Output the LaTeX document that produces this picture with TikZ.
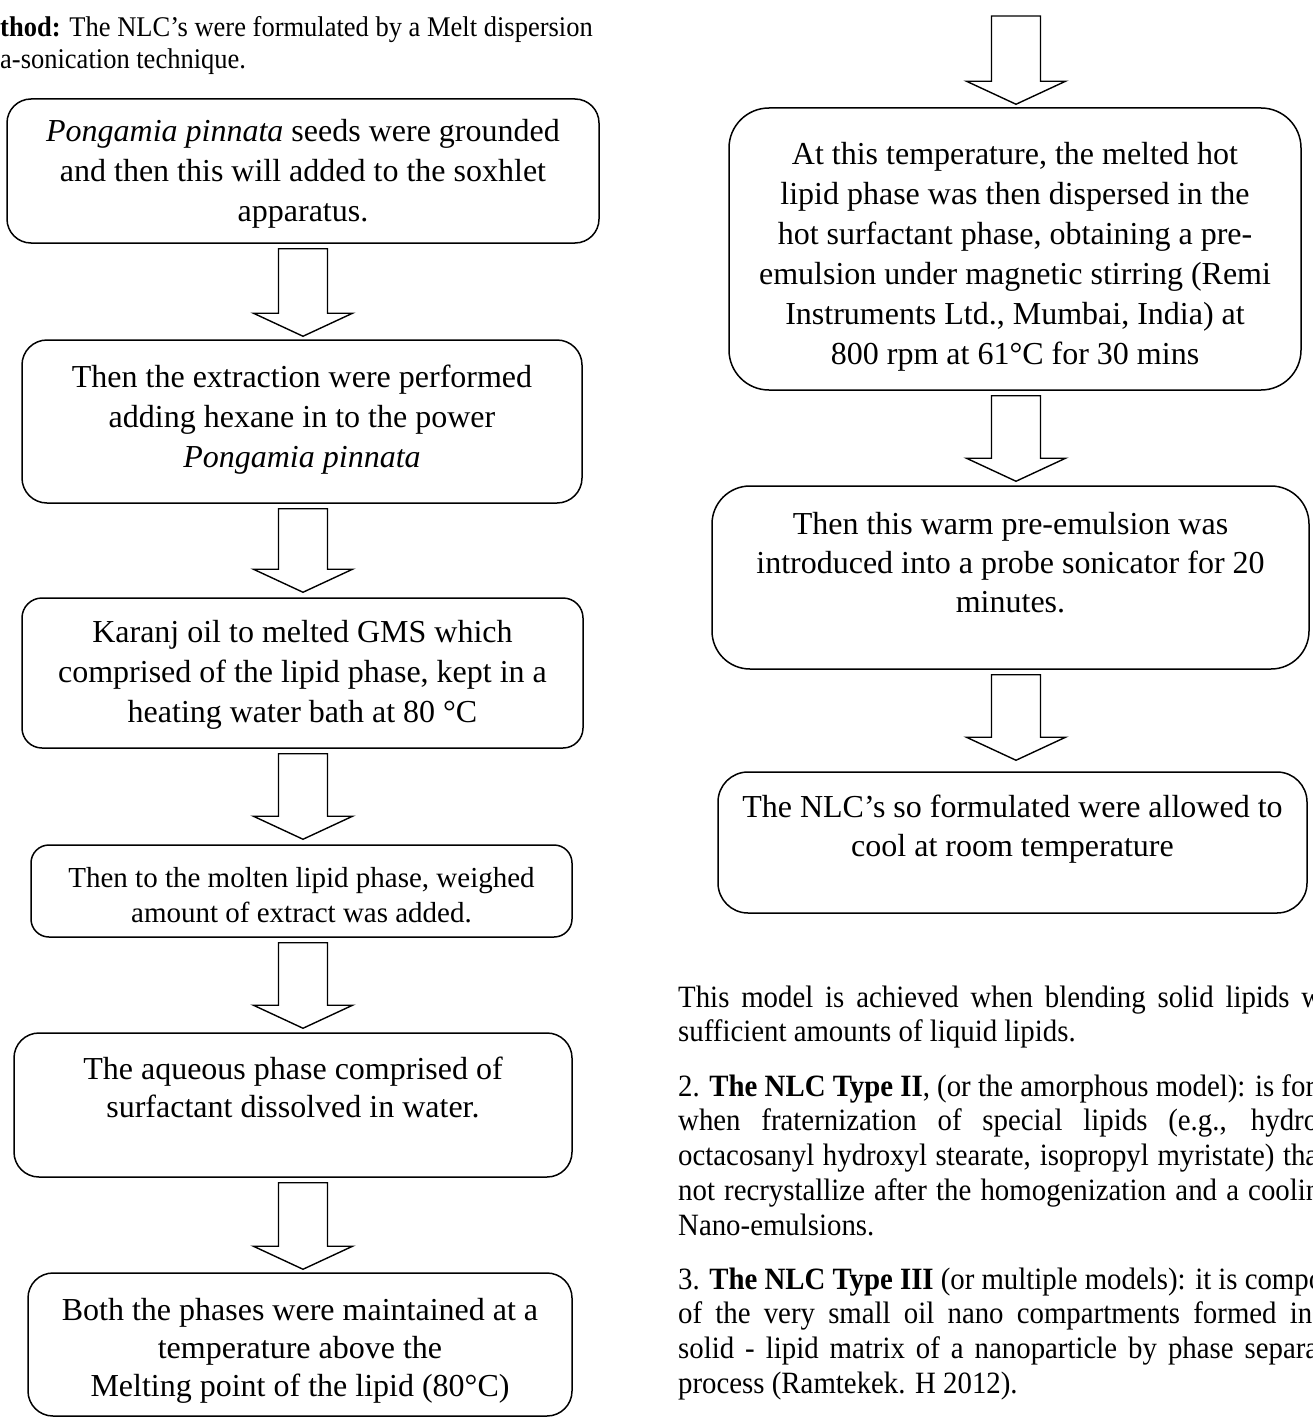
\documentclass[tikz,border=0pt]{standalone}
\usepackage{fontspec}
\setmainfont{Liberation Serif}
\newfontfamily\bodyfont[FakeStretch=0.93]{Liberation Serif}
\usetikzlibrary{calc}

\tikzset{
  stepbox/.style={draw, line width=1.5pt, inner sep=0pt, font=\fontsize{32}{40}\selectfont},
  blockarrow/.style={draw, line width=1.4pt, fill=white, line join=miter},
  bodytext/.style={anchor=north west, inner sep=0pt, align=left, font=\bodyfont\fontsize{31}{34.7}\selectfont}
}
% width, height, top padding, text
\newcommand{\steptext}[4]{\parbox[c][#2pt][t]{#1pt}{\centering\vspace*{#3pt}\strut #4}}
% one justified line of the running text
\newcommand{\jline}[2]{\makebox[#1pt][s]{#2}}

\begin{document}
\begin{tikzpicture}[x=1pt,y=-1pt]
  \fill[white] (0,0) rectangle (1312,1418);
  \useasboundingbox (0,0) rectangle (1312,1418);
  \clip (0,0) rectangle (1312,1418);

  \coordinate (lc) at (303,0);
  \coordinate (rc) at (1016,0);
  \coordinate (top) at (1016,11);

  \node[bodytext, font=\bodyfont\fontsize{28.5}{32}\selectfont] (head) at (0,13.6)
    {\strut\textbf{thod:} The NLC’s were formulated by a Melt dispersion\\a-sonication technique.};

  % left column
  \node[stepbox, rounded corners=24pt] (b1) at (303,171)
    {\steptext{592}{144}{14}{\textit{Pongamia pinnata} seeds were grounded\\and then this will added to the soxhlet\\apparatus.}};
  \node[stepbox, rounded corners=25pt] (b2) at (302,421.5)
    {\steptext{560}{163}{19}{Then the extraction were performed\\adding hexane in to the power\\\textit{Pongamia pinnata}}};
  \node[stepbox, rounded corners=20pt] (b3) at (302.5,673)
    {\steptext{561}{150}{16}{Karanj oil to melted GMS which\\comprised of the lipid phase, kept in a\\heating water bath at 80~°C}};
  \node[stepbox, rounded corners=18pt, font=\fontsize{29}{35}\selectfont] (b4) at (301.5,891)
    {\steptext{541}{92}{17.5}{Then to the molten lipid phase, weighed\\amount of extract was added.}};
  \node[stepbox, rounded corners=25pt, font=\fontsize{32}{38}\selectfont] (b5) at (293,1105)
    {\steptext{558}{144}{19.4}{The aqueous phase comprised of\\surfactant dissolved in water.}};
  \node[stepbox, rounded corners=25pt, font=\fontsize{32}{38}\selectfont] (b6) at (300,1344.5)
    {\steptext{544}{143}{21}{Both the phases were maintained at a\\temperature above the\\Melting point of the lipid (80°C)}};

  % right column
  \node[stepbox, rounded corners=40pt] (bA) at (1015,249)
    {\steptext{572}{282}{28}{At this temperature, the melted hot\\lipid phase was then dispersed in the\\hot surfactant phase, obtaining a pre-\\emulsion under magnetic stirring (Remi\\Instruments Ltd., Mumbai, India) at\\800 rpm at 61°C for 30 mins}};
  \node[stepbox, rounded corners=38pt, font=\fontsize{32}{39}\selectfont] (bB) at (1010.5,577.5)
    {\steptext{597}{183}{20.7}{Then this warm pre-emulsion was\\introduced into a probe sonicator for 20\\minutes.}};
  \node[stepbox, rounded corners=30pt, font=\fontsize{32}{39}\selectfont] (bC) at (1012.5,842.5)
    {\steptext{589}{141}{17.7}{The NLC’s so formulated were allowed to\\cool at room temperature}};

  \foreach \from/\to/\col/\gap in {b1.south/b2.north/lc/3, b2.south/b3.north/lc/5,
    b3.south/b4.north/lc/5, b4.south/b5.north/lc/4, b5.south/b6.north/lc/3,
    top/bA.north/rc/3, bA.south/bB.north/rc/4, bB.south/bC.north/rc/11}
    \draw[blockarrow] let \p1=(\from -| \col), \p2=(\to -| \col) in
      (\x1-24.5pt,\y1-5pt) -- (\x1-24.5pt,\y2+\gap pt+23pt) -- (\x1-49.5pt,\y2+\gap pt+23pt)
      -- (\x1,\y2+\gap pt) -- (\x1+49.5pt,\y2+\gap pt+23pt) -- (\x1+24.5pt,\y2+\gap pt+23pt)
      -- (\x1+24.5pt,\y1-5pt) -- cycle;

  % running text
  \node[bodytext] (p1) at (678,982.7)
    {\strut\jline{644}{This model is achieved when blending solid lipids w}\\sufficient amounts of liquid lipids.};
  \node[bodytext] (p2) at (678,1071.7)
    {\strut 2. \textbf{The NLC Type II}, (or the amorphous model): is form\\\jline{640}{when fraternization of special lipids (e.g., hydro}\\\jline{640}{octacosanyl hydroxyl stearate, isopropyl myristate) tha}\\\jline{642}{not recrystallize after the homogenization and a coolin}\\Nano-emulsions.};
  \node[bodytext] (p3) at (678,1264.7)
    {\strut\jline{645}{3. \textbf{The NLC Type III} (or multiple models): it is compo}\\\jline{634}{of the very small oil nano compartments formed in}\\\jline{640}{solid - lipid matrix of a nanoparticle by phase separa}\\process (Ramtekek. H 2012).};
\end{tikzpicture}
\end{document}
